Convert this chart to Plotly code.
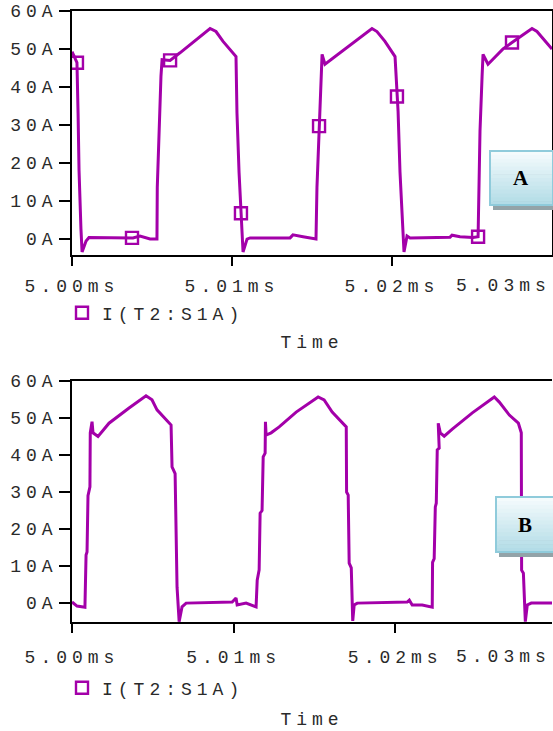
import plotly.graph_objects as go

# ---------------- data (time in ms, current in A) ----------------
time_a = [5.00000, 5.00031, 5.00038, 5.00044, 5.00056, 5.00063, 5.00088, 5.00106, 5.00381, 5.00425,
          5.00488, 5.00531, 5.00533, 5.00544, 5.00556, 5.00563, 5.00613, 5.00675, 5.00756, 5.00863,
          5.00900, 5.00944, 5.01025, 5.01031, 5.01044, 5.01056, 5.01063, 5.01069, 5.01094, 5.01113,
          5.01363, 5.01381, 5.01444, 5.01525, 5.01531, 5.01544, 5.01556, 5.01563, 5.01581, 5.01675,
          5.01781, 5.01875, 5.01906, 5.01956, 5.02019, 5.02031, 5.02038, 5.02050, 5.02069, 5.02075,
          5.02094, 5.02113, 5.02363, 5.02375, 5.02425, 5.02506, 5.02538, 5.02544, 5.02550, 5.02563,
          5.02569, 5.02600, 5.02694, 5.02750, 5.02875, 5.02906, 5.03000]
current_a = [49.3, 46.4, 33.0, 18.0, 2.6, -3.4, -0.5, 0.4, 0.3, 0.8,
             0.0, 0.0, 13.6, 28.4, 42.8, 47.2, 47.0, 49.0, 51.7, 55.4,
             54.6, 52.0, 48.0, 33.3, 17.6, 6.8, 1.8, -3.4, 0.0, 0.3,
             0.3, 1.1, 0.6, 0.0, 13.6, 29.7, 44.0, 48.6, 46.0, 49.0,
             52.5, 55.4, 54.6, 52.0, 48.0, 37.5, 33.6, 17.6, 1.3, -3.4,
             0.8, 0.3, 0.5, 1.0, 0.6, 0.4, 0.6, 13.0, 28.4, 42.8,
             48.6, 46.0, 50.0, 51.7, 55.4, 54.6, 50.0]
marker_time_a = [5.00031, 5.00375, 5.00613, 5.01056, 5.01544, 5.02031, 5.02538, 5.02750]
marker_current_a = [46.4, 0.3, 47.0, 6.8, 29.7, 37.5, 0.6, 51.7]

time_b = [5.00000, 5.00031, 5.00080, 5.00087, 5.00093, 5.00099, 5.00111, 5.00113, 5.00124, 5.00130,
          5.00161, 5.00229, 5.00353, 5.00458, 5.00495, 5.00526, 5.00613, 5.00619, 5.00638, 5.00644,
          5.00650, 5.00663, 5.00681, 5.00706, 5.00991, 5.01015, 5.01022, 5.01077, 5.01139, 5.01146,
          5.01158, 5.01164, 5.01176, 5.01183, 5.01195, 5.01197, 5.01201, 5.01232, 5.01282, 5.01387,
          5.01523, 5.01560, 5.01610, 5.01697, 5.01699, 5.01709, 5.01715, 5.01728, 5.01734, 5.01737,
          5.01746, 5.01765, 5.02074, 5.02087, 5.02105, 5.02167, 5.02229, 5.02231, 5.02241, 5.02248,
          5.02254, 5.02260, 5.02272, 5.02266, 5.02279, 5.02303, 5.02353, 5.02477, 5.02613, 5.02644,
          5.02706, 5.02762, 5.02780, 5.02782, 5.02793, 5.02799, 5.02805, 5.02817, 5.02842, 5.02972]
current_b = [0.3, -0.8, -1.1, 13.0, 13.8, 29.0, 31.4, 46.0, 49.0, 46.0,
             45.0, 48.6, 52.7, 56.0, 54.9, 52.2, 48.1, 36.8, 35.0, 19.7,
             4.3, -5.0, -1.0, 0.0, 0.3, 1.4, -0.5, 0.0, -1.0, 6.2,
             9.0, 24.3, 25.0, 39.5, 40.5, 49.0, 45.4, 46.0, 47.6, 51.6,
             55.7, 54.9, 51.6, 47.6, 30.0, 29.2, 10.8, 9.5, 0.0, -4.8,
             -0.5, 0.0, 0.3, 0.8, -0.5, -0.5, -1.1, 11.0, 12.0, 26.0,
             27.0, 41.4, 41.9, 48.6, 46.0, 45.1, 47.0, 51.4, 55.7, 54.3,
             50.8, 48.6, 46.0, 8.9, 8.1, 0.8, -5.0, -0.5, 0.0, 0.0]

x_tick_vals = [5.00, 5.01, 5.02]
x_tick_labels = ["5.00ms", "5.01ms", "5.02ms"]
last_tick_label = "5.03ms"
y_tick_vals = [0, 10, 20, 30, 40, 50, 60]
y_tick_labels = ["0A", "10A", "20A", "30A", "40A", "50A", "60A"]
series_name = "I(T2:S1A)"
axis_title = "Time"
panel_labels = ["A", "B"]

# ---------------- styling ----------------
W, H = 553, 731
L, R = 72, 1
PW = W - L - R
COLOR = "#a300a9"
TXT = "#2a2a2a"
MONO = "Liberation Mono, Courier New, monospace"
FS = 18
SP = 5.0


def ls(s):
    return f'<span style="letter-spacing:{SP}px">{s}</span>'


def pxx(px):
    return (px - L) / PW


def pxy(py):
    return 1 - py / H


fig = go.Figure()

fig.add_trace(go.Scatter(x=time_a, y=current_a, mode="lines", line=dict(color=COLOR, width=3),
                         showlegend=False, xaxis="x", yaxis="y", hoverinfo="skip"))
fig.add_trace(go.Scatter(x=marker_time_a, y=marker_current_a, mode="markers", name=ls(series_name),
                         marker=dict(symbol="square-open", size=12, color=COLOR, line=dict(width=2.4, color=COLOR)),
                         legend="legend", xaxis="x", yaxis="y", hoverinfo="skip"))
fig.add_trace(go.Scatter(x=time_b, y=current_b, mode="lines", line=dict(color=COLOR, width=3),
                         showlegend=False, xaxis="x2", yaxis="y2", hoverinfo="skip"))
fig.add_trace(go.Scatter(x=[None], y=[None], mode="markers", name=ls(series_name),
                         marker=dict(symbol="square-open", size=12, color=COLOR, line=dict(width=2.4, color=COLOR)),
                         legend="legend2", xaxis="x2", yaxis="y2", hoverinfo="skip"))

axis_common = dict(showline=True, linecolor="black", linewidth=1.6, ticks="outside",
                   tickcolor="black", tickwidth=1.6, showgrid=False, zeroline=False,
                   automargin=False, tickfont=dict(family=MONO, size=FS, color=TXT))

fig.update_layout(
    template="none",
    width=W, height=H,
    margin=dict(l=L, r=R, t=0, b=0, autoexpand=False),
    paper_bgcolor="white", plot_bgcolor="white",
    xaxis=dict(axis_common, domain=[0, 1], anchor="y", range=[5.0, 5.03], mirror=True,
               tickmode="array", tickvals=x_tick_vals, ticktext=[ls(t) for t in x_tick_labels],
               ticklen=9, ticklabelstandoff=5,
               title=dict(text=ls(axis_title), font=dict(family=MONO, size=FS, color=TXT), standoff=39)),
    yaxis=dict(axis_common, domain=[pxy(255), pxy(11)], anchor="x", range=[-4.2, 60], mirror=True,
               tickmode="array", tickvals=y_tick_vals, ticktext=[ls(t) for t in y_tick_labels],
               ticklen=11, ticklabelstandoff=-2),
    xaxis2=dict(axis_common, domain=[0, 1], anchor="y2", range=[5.0, 5.0297], mirror=True,
                tickmode="array", tickvals=x_tick_vals, ticktext=[ls(t) for t in x_tick_labels],
                ticklen=9, ticklabelstandoff=9,
                title=dict(text=ls(axis_title), font=dict(family=MONO, size=FS, color=TXT), standoff=45)),
    yaxis2=dict(axis_common, domain=[pxy(622), pxy(381)], anchor="x2", range=[-5.1, 60], mirror=False,
                tickmode="array", tickvals=y_tick_vals, ticktext=[ls(t) for t in y_tick_labels],
                ticklen=11, ticklabelstandoff=-2),
    legend=dict(x=pxx(62), y=pxy(313), xanchor="left", yanchor="middle", bgcolor="rgba(0,0,0,0)",
                font=dict(family=MONO, size=FS, color=TXT)),
    legend2=dict(x=pxx(62), y=pxy(688), xanchor="left", yanchor="middle", bgcolor="rgba(0,0,0,0)",
                 font=dict(family=MONO, size=FS, color=TXT)),
    hovermode=False,
)

# last tick labels (right-edge shifted as in the reference)
for yc in (285.5, 657):
    fig.add_annotation(text=ls(last_tick_label), xref="paper", yref="paper", x=1, y=pxy(yc),
                       xanchor="right", yanchor="middle", showarrow=False, xshift=1,
                       font=dict(family=MONO, size=FS, color=TXT))

# label boxes with shadow and vertical gradient
boxes = [(490, 151, 553, 205, panel_labels[0]), (496, 497, 556, 552, panel_labels[1])]
top_rgb = (247, 252, 253)
bot_rgb = (176, 219, 230)
N = 14
for (x0, y0, x1, y1, lab) in boxes:
    fig.add_shape(type="rect", xref="paper", yref="paper", x0=pxx(x0 + 3), x1=pxx(x1 + 4),
                  y0=pxy(y1 + 5), y1=pxy(y0 + 5), fillcolor="#93a3a8", line=dict(width=0), layer="above")
    for i in range(N):
        f = (i + 0.5) / N
        c = tuple(int(round(top_rgb[k] + (bot_rgb[k] - top_rgb[k]) * f)) for k in range(3))
        ya = y0 + (y1 - y0) * i / N
        yb = y0 + (y1 - y0) * (i + 1) / N + 0.6
        fig.add_shape(type="rect", xref="paper", yref="paper", x0=pxx(x0), x1=pxx(x1),
                      y0=pxy(min(yb, y1)), y1=pxy(ya), fillcolor=f"rgb{c}", line=dict(width=0), layer="above")
    fig.add_shape(type="rect", xref="paper", yref="paper", x0=pxx(x0), x1=pxx(x1),
                  y0=pxy(y1), y1=pxy(y0), fillcolor="rgba(0,0,0,0)", line=dict(width=2, color="#8fcbdb"),
                  layer="above")
    fig.add_annotation(text=f"<b>{lab}</b>", xref="paper", yref="paper", x=pxx((x0 + x1) / 2 - 1),
                       y=pxy((y0 + y1) / 2), xanchor="center", yanchor="middle", showarrow=False,
                       font=dict(family="Liberation Serif, DejaVu Serif, serif", size=21, color="black"))

fig.write_html("out.html", config={"displayModeBar": False},
               post_script="document.body.style.margin='0';document.body.style.overflow='hidden';")
